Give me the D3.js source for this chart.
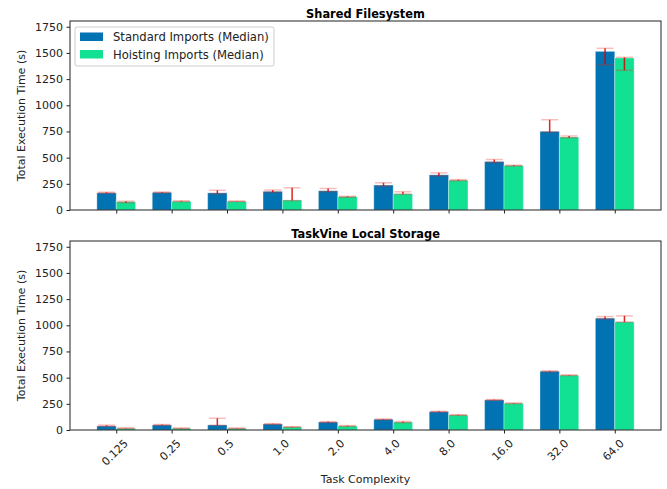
<!DOCTYPE html>
<html>
<head>
<meta charset="utf-8">
<script src="https://cdn.jsdelivr.net/npm/d3@7"></script>
<style>
  body { margin: 0; background: #fff; }
  svg { display: block; font-family: "DejaVu Sans", sans-serif; }
</style>
</head>
<body>
<svg id="chart" width="667" height="489"></svg>
<script>
// Task complexity levels on the x axis
const categories = ["0.125", "0.25", "0.5", "1.0", "2.0", "4.0", "8.0", "16.0", "32.0", "64.0"];

// Shared Filesystem: medians with min / max whiskers (seconds)
const sharedStdMedian = [164, 168, 164, 178, 184, 238, 336, 463, 751, 1515];
const sharedStdHigh   = [170, 172, 188, 190, 206, 260, 355, 482, 862, 1544];
const sharedStdLow    = [160, 165, 155, 170, 175, 228, 325, 455, 745, 1386];
const sharedHoistMedian = [79, 83, 83, 95, 127, 155, 285, 425, 697, 1452];
const sharedHoistHigh   = [84, 88, 85, 212, 130, 174, 290, 428, 707, 1458];
const sharedHoistLow    = [70, 80, 81, 90, 122, 150, 280, 420, 690, 1334];

// TaskVine Local Storage: medians with min / max whiskers (seconds)
const localStdMedian = [38, 48, 48, 57, 76, 102, 175, 287, 561, 1068];
const localStdHigh   = [46, 52, 112, 60, 80, 105, 178, 290, 565, 1083];
const localStdLow    = [35, 45, 45, 55, 72, 98, 172, 284, 557, 1060];
const localHoistMedian = [16, 16, 16, 29, 38, 76, 143, 255, 523, 1033];
const localHoistHigh   = [20, 19, 18, 31, 42, 82, 146, 258, 526, 1090];
const localHoistLow    = [14, 14, 14, 27, 35, 70, 140, 252, 520, 1030];

const yTicks = [0, 250, 500, 750, 1000, 1250, 1500, 1750];
const seriesNames = ["Standard Imports (Median)", "Hoisting Imports (Median)"];
const colors = ["#0173b2", "#12e193"];

const panels = [
  { title: "Shared Filesystem", top: 21, bottom: 210, showLabels: false,
    series: [
      { median: sharedStdMedian, low: sharedStdLow, high: sharedStdHigh },
      { median: sharedHoistMedian, low: sharedHoistLow, high: sharedHoistHigh }
    ] },
  { title: "TaskVine Local Storage", top: 241, bottom: 430, showLabels: true,
    series: [
      { median: localStdMedian, low: localStdLow, high: localStdHigh },
      { median: localHoistMedian, low: localHoistLow, high: localHoistHigh }
    ] }
];

const svg = d3.select("#chart");
const left = 70, right = 661;
const barW = 0.35;

// index scale: bars sit at i ± width/2, with 5% padding on each side
const pad = (categories.length - 1 + 2 * barW) * 0.05;
const x = d3.scaleLinear()
  .domain([-barW - pad, categories.length - 1 + barW + pad])
  .range([left, right]);

panels.forEach(p => {
  const y = d3.scaleLinear().domain([0, 1805]).range([p.bottom, p.top]);
  const g = svg.append("g");
  const bw = x(barW) - x(0);

  p.series.forEach((s, si) => {
    const off = si === 0 ? -barW / 2 : barW / 2;
    g.append("g").selectAll("rect")
      .data(s.median)
      .join("rect")
      .attr("x", (d, i) => x(i + off) - bw / 2)
      .attr("y", d => y(d))
      .attr("width", bw)
      .attr("height", d => y(0) - y(d))
      .attr("fill", colors[si])
      .attr("stroke", "rgba(255,255,255,0.35)")
      .attr("stroke-width", 1);
  });

  // whiskers drawn on top of both bar series
  p.series.forEach((s, si) => {
    const off = si === 0 ? -barW / 2 : barW / 2;
    const eg = g.append("g");
    s.median.forEach((m, i) => {
      const cx = x(i + off);
      const capHalf = 8.5;
      eg.append("line")
        .attr("x1", cx).attr("x2", cx)
        .attr("y1", y(s.low[i])).attr("y2", y(s.high[i]))
        .attr("stroke", "#d40000").attr("stroke-opacity", 0.85).attr("stroke-width", 1.5);
      [s.low[i], s.high[i]].forEach(v => {
        eg.append("line")
          .attr("x1", cx - capHalf).attr("x2", cx + capHalf)
          .attr("y1", y(v)).attr("y2", y(v))
          .attr("stroke", "#e8271f").attr("stroke-opacity", 0.3).attr("stroke-width", 1.5);
      });
    });
  });

  // frame
  g.append("rect")
    .attr("x", left).attr("y", p.top)
    .attr("width", right - left).attr("height", p.bottom - p.top)
    .attr("fill", "none").attr("stroke", "#222").attr("stroke-width", 1);

  const yAxis = d3.axisLeft(y).tickValues(yTicks).tickSize(3.5).tickPadding(3.5).tickFormat(d3.format("d"));
  const ya = g.append("g").attr("transform", `translate(${left},0)`).call(yAxis);
  ya.select(".domain").remove();
  ya.selectAll("text").attr("font-size", 11).attr("fill", "#222").attr("font-family", "DejaVu Sans");
  ya.selectAll("line").attr("stroke", "#222");

  const xAxis = d3.axisBottom(x).tickValues(d3.range(categories.length))
    .tickSize(3.5).tickPadding(3.5).tickFormat(i => p.showLabels ? categories[i] : "");
  const xa = g.append("g").attr("transform", `translate(0,${p.bottom})`).call(xAxis);
  xa.select(".domain").remove();
  xa.selectAll("line").attr("stroke", "#222");
  if (p.showLabels) {
    // rotated labels, centred under each tick with the top of their box fixed
    const fs = 11;
    xa.selectAll("text")
      .attr("font-size", fs).attr("fill", "#222").attr("font-family", "DejaVu Sans")
      .attr("text-anchor", "middle")
      .attr("dy", "0.35em")
      .attr("y", 0)
      .each(function () {
        const w = this.getComputedTextLength();
        const h = (w + fs * 1.1) * Math.SQRT1_2;
        const cy = 7 + h / 2;
        d3.select(this).attr("transform", `translate(-2,${cy}) rotate(-45)`);
      });
  }

  g.append("text")
    .attr("x", (left + right) / 2).attr("y", p.top - 3)
    .attr("text-anchor", "middle").attr("font-size", 11.4).attr("font-weight", "bold")
    .attr("fill", "#000").text(p.title);

  g.append("text")
    .attr("transform", `translate(25,${(p.top + p.bottom) / 2}) rotate(-90)`)
    .attr("text-anchor", "middle").attr("font-size", 11).attr("fill", "#222")
    .text("Total Execution Time (s)");
});

// x axis title
svg.append("text")
  .attr("x", (left + right) / 2).attr("y", 483)
  .attr("text-anchor", "middle").attr("font-size", 11).attr("fill", "#222")
  .text("Task Complexity");

// legend
const lg = svg.append("g").attr("transform", "translate(75,27)");
lg.append("rect").attr("width", 199).attr("height", 39).attr("rx", 2)
  .attr("fill", "rgba(255,255,255,0.8)").attr("stroke", "#ccc").attr("stroke-width", 1);
seriesNames.forEach((name, i) => {
  lg.append("rect").attr("x", 5).attr("y", 5.5 + i * 17.5).attr("width", 23).attr("height", 8.5)
    .attr("fill", colors[i]);
  lg.append("text").attr("x", 38).attr("y", 14 + i * 17.5)
    .attr("font-size", 11.6).attr("fill", "#222").text(name);
});
</script>
</body>
</html>
